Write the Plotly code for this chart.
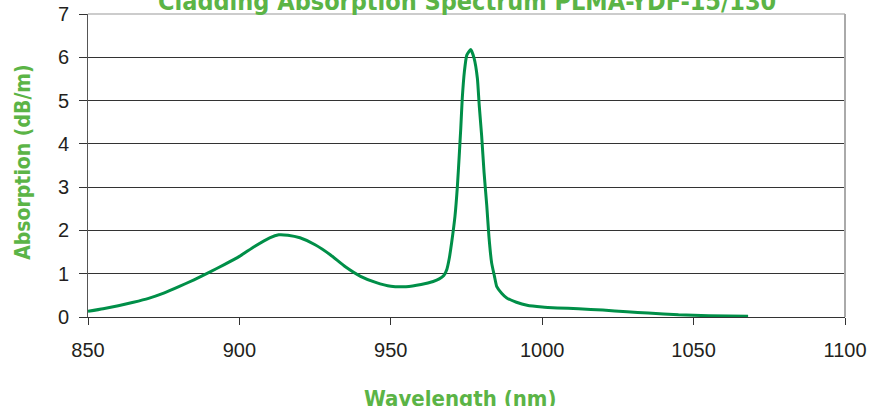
import plotly.graph_objects as go

wavelength_nm = [850, 855, 860, 865, 870, 875, 880, 885, 890, 895, 900, 905, 910, 913, 916,
                 920, 925, 930, 935, 940, 945, 950, 955, 960, 964, 966, 967.5, 968.5, 969.3,
                 970.1, 971.2, 972.0, 972.6, 973.1, 973.6, 974.3, 975.1, 976.4, 977.5, 978.6,
                 979.2, 980.0, 980.8, 981.7, 982.4, 983.3, 984.2, 985.0, 986.6, 988.3, 991.5,
                 995, 1000, 1005, 1012, 1020, 1028, 1035, 1045, 1055, 1068]
absorption_db_m = [0.13, 0.19, 0.26, 0.34, 0.43, 0.55, 0.70, 0.86, 1.03, 1.21, 1.40, 1.63, 1.83,
                   1.90, 1.89, 1.83, 1.67, 1.44, 1.16, 0.94, 0.80, 0.71, 0.70, 0.75, 0.82, 0.88,
                   0.96, 1.10, 1.35, 1.72, 2.33, 3.03, 3.73, 4.35, 5.05, 5.67, 6.05, 6.18, 5.98,
                   5.51, 4.89, 4.19, 3.34, 2.57, 1.87, 1.25, 0.95, 0.70, 0.55, 0.44, 0.34, 0.27,
                   0.23, 0.21, 0.19, 0.16, 0.12, 0.09, 0.05, 0.03, 0.02]
x_ticks = [850, 900, 950, 1000, 1050, 1100]
y_ticks = [0, 1, 2, 3, 4, 5, 6, 7]

title_text = "Cladding Absorption Spectrum PLMA-YDF-15/130"
x_title = "Wavelength (nm)"
y_title = "Absorption (dB/m)"

GREEN_TXT = "#5BB446"
LINE_GREEN = "#008F48"
COND = "Liberation Sans Narrow, Arial Narrow, DejaVu Sans Condensed, sans-serif"
TICKFONT = dict(family="Liberation Sans, Arial, sans-serif", size=20, color="#231F20")

fig = go.Figure()
fig.add_trace(go.Scatter(x=wavelength_nm, y=absorption_db_m, mode="lines",
                         line=dict(color=LINE_GREEN, width=3, shape="spline", smoothing=0.5),
                         hoverinfo="skip", showlegend=False))

fig.update_layout(
    width=870, height=406,
    margin=dict(l=88, r=25, t=14, b=89),
    paper_bgcolor="white", plot_bgcolor="white",
    xaxis=dict(range=[850, 1100], tickvals=x_ticks, ticks="outside", ticklen=7,
               tickcolor="#333333", showline=True, linecolor="#333333", linewidth=1,
               showgrid=False, zeroline=False, tickfont=TICKFONT, automargin=False,
               ticklabelstandoff=8),
    yaxis=dict(range=[0, 7], tickvals=y_ticks, ticks="outside", ticklen=8,
               tickcolor="#333333", showline=True, linecolor="#555555", linewidth=1,
               showgrid=True, gridcolor="#333333", gridwidth=1, zeroline=False,
               tickfont=TICKFONT, automargin=False, ticklabelstandoff=6),
    annotations=[
        dict(text="<b>" + title_text + "</b>", x=0.5, y=1, xref="paper", yref="paper",
             xanchor="center", yanchor="bottom", yshift=-4, showarrow=False,
             font=dict(family=COND, size=25, color=GREEN_TXT)),
        dict(text="<b>" + x_title + "</b>", x=0.492, y=0, xref="paper", yref="paper",
             xanchor="center", yanchor="top", yshift=-67, showarrow=False,
             font=dict(family=COND, size=22, color=GREEN_TXT)),
        dict(text="<b>" + y_title + "</b>", x=0, y=0.512, xref="paper", yref="paper",
             xanchor="center", yanchor="middle", xshift=-65, textangle=-90, showarrow=False,
             font=dict(family=COND, size=21, color=GREEN_TXT)),
    ],
    shapes=[dict(type="line", xref="paper", yref="paper", x0=0, x1=1, y0=1, y1=1,
                 line=dict(color="#999999", width=1)),
            dict(type="line", xref="paper", yref="paper", x0=1, x1=1, y0=0, y1=1,
                 line=dict(color="#AAAAAA", width=2))],
)

fig.write_html("out.html", config={"displayModeBar": False},
               post_script="document.body.style.margin='0';document.body.style.overflow='hidden';")
